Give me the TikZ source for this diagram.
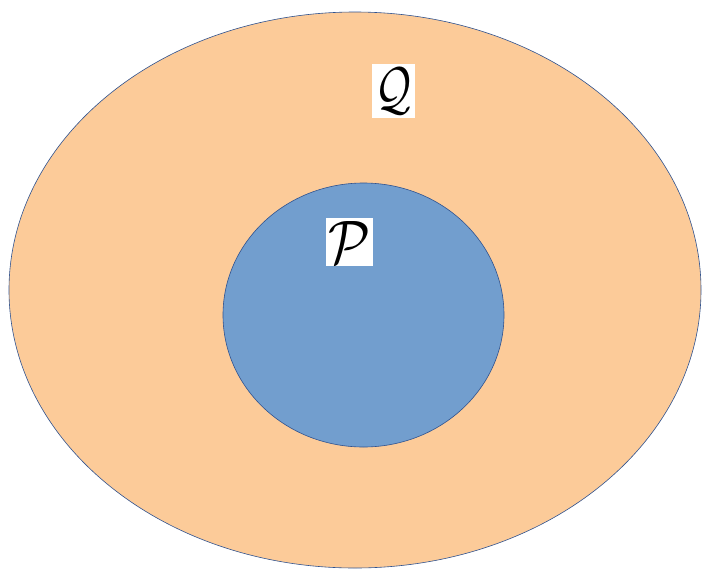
\documentclass[tikz,border=0pt]{standalone}
\definecolor{outerfill}{RGB}{252,203,153}
\definecolor{innerfill}{RGB}{114,158,206}
\definecolor{edge}{RGB}{47,82,143}
\tikzset{
  setshape/.style={draw=edge, line width=0.6pt},
  labelbox/.style={fill=white, inner sep=0pt}
}
\begin{document}
\begin{tikzpicture}[x=1pt,y=-1pt]
\useasboundingbox (0,0) rectangle (704,571);
\fill[white] (0,0) rectangle (704,571);
\path[setshape, fill=outerfill] (355,290) ellipse [x radius=346, y radius=278];
\path[setshape, fill=innerfill] (363.5,315) ellipse [x radius=140.5, y radius=132];
\node[labelbox, minimum width=43pt, minimum height=54pt] (Q) at (393.5,91) {\resizebox*{36pt}{46pt}{$\mathcal{Q}$}};
\node[labelbox, minimum width=47pt, minimum height=48pt] (P) at (349.5,242) {\resizebox*{42pt}{42pt}{$\mathcal{P}$}};
\end{tikzpicture}
\end{document}
